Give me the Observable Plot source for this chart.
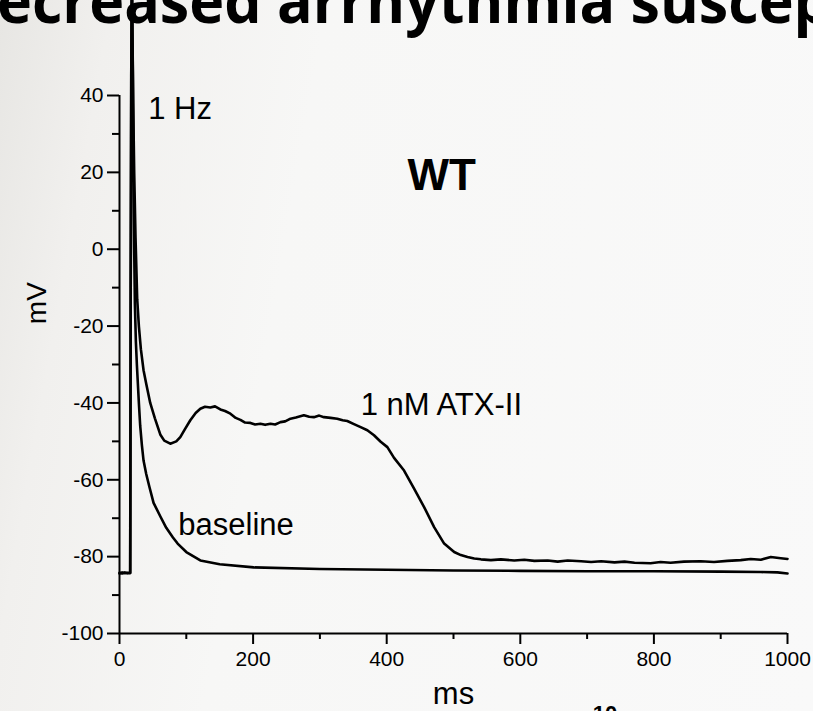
<!DOCTYPE html>
<html>
<head>
<meta charset="utf-8">
<script src="https://cdn.jsdelivr.net/npm/d3@7"></script>
<script src="https://cdn.jsdelivr.net/npm/@observablehq/plot@0.6"></script>
<style>
  html, body { margin: 0; padding: 0; }
  body {
    width: 813px; height: 711px; overflow: hidden; position: relative;
    background: linear-gradient(100deg, #e7e6e3 0%, #f1f0ee 12%, #f7f7f6 35%, #f9f9f9 100%);
  }
  #chart svg { display: block; }
  #overlay { position: absolute; left: 0; top: 0; pointer-events: none; }
</style>
</head>
<body>
<div id="chart"></div>
<svg id="overlay" width="813" height="711">
  <text id="title" x="-3" y="23" font-family="'Open Sans', sans-serif" font-weight="700" font-size="60" textLength="834" lengthAdjust="spacingAndGlyphs" fill="#000">ecreased arrhythmia suscep</text>
  <text x="605" y="721" text-anchor="middle" font-family="'Liberation Sans', Arial, sans-serif" font-weight="700" font-size="22" fill="#000">10</text>
</svg>
<script>
// ---- data (ms, mV) ----
const baselineTime = [0, 4, 8, 12, 16, 16.8, 17.6, 18.5, 20, 21, 22, 23, 24.5, 26, 27.5, 29, 31, 33.5, 36, 40, 45, 51, 61, 70, 80, 87, 100, 121, 150, 201, 300, 400, 500, 600, 700, 800, 900, 960, 985, 1000];
const baselineMV   = [-84.4, -84.1, -84.3, -84.2, -84.3, -10, 45, 72, 45, 20, 0, -14, -24, -30, -35, -40, -46, -51, -55, -58.5, -62, -66, -69.5, -72.5, -75, -76.6, -78.8, -81, -82, -82.8, -83.2, -83.4, -83.6, -83.7, -83.8, -83.8, -83.9, -84, -84.1, -84.4];

const atxTime = [0, 4, 8, 12, 16, 16.8, 17.6, 18.5, 19.5, 20.5, 22, 24, 26.5, 29, 32, 36, 40, 46, 53, 61, 67, 76, 85, 91, 98, 106, 114, 121, 128, 136, 143, 151, 158, 166, 174, 181, 188, 196, 203, 211, 218, 226, 233, 241, 248, 256, 264, 276, 284, 291, 299, 306, 316, 326, 334, 341, 351, 361, 371, 381, 391, 401, 411, 426, 441, 456, 471, 486, 501, 511, 521, 531, 541, 556, 571, 591, 606, 621, 641, 656, 671, 691, 706, 721, 741, 756, 771, 795, 810, 825, 845, 870, 890, 910, 930, 945, 960, 975, 990, 1000];
const atxMV   = [-84.2, -84.4, -84.1, -84.3, -84.2, -10, 45, 72, 55, 38, 20, 3, -13, -20, -26, -31.5, -35, -40, -44, -48.2, -49.8, -50.6, -50, -48.9, -46.8, -44.5, -42.6, -41.5, -41, -41.2, -40.9, -41.7, -42.1, -42.8, -43.9, -44.4, -45.1, -45.2, -45.6, -45.4, -45.7, -45.4, -45.6, -45, -44.8, -44.1, -43.8, -43.2, -43.6, -43.7, -43.3, -43.7, -43.9, -44.1, -44.5, -44.7, -45.5, -46.3, -47.1, -48.4, -50.1, -51.5, -54.3, -57.6, -62.3, -67.1, -72.3, -76.6, -78.8, -79.6, -80.1, -80.5, -80.7, -80.9, -80.7, -81, -80.8, -81.1, -81, -81.3, -81, -81.2, -81.4, -81.2, -81.5, -81.3, -81.6, -81.7, -81.4, -81.6, -81.3, -81.2, -81.4, -81.1, -80.9, -80.6, -80.8, -80.1, -80.4, -80.6];

// axis ticks
const xMajorTicks = [0, 200, 400, 600, 800, 1000];
const xMinorTicks = [100, 300, 500, 700, 900];
const yMajorTicks = [-100, -80, -60, -40, -20, 0, 20, 40];
const yMinorTicks = [-90, -70, -50, -30, -10, 10, 30];

// labels
const xLabel = "ms";
const yLabel = "mV";
const groupLabel = "WT";
const rateLabel = "1 Hz";
const atxLabel = "1 nM ATX-II";
const baseLabel = "baseline";

const baselineData = baselineTime.map((t, i) => ({t, v: baselineMV[i]}));
const atxData = atxTime.map((t, i) => ({t, v: atxMV[i]}));

const font = "'Liberation Sans', Arial, Helvetica, sans-serif";

const chart = Plot.plot({
  width: 813,
  height: 711,
  marginTop: 95,
  marginLeft: 119,
  marginRight: 26,
  marginBottom: 78,
  x: {domain: [0, 1000]},
  y: {domain: [-100, 40]},
  style: {background: "transparent", fontFamily: font, fontSize: "21px", color: "#000", overflow: "visible"},
  marks: [
    Plot.line(atxData, {x: "t", y: "v", stroke: "#000", strokeWidth: 2.6, curve: "linear"}),
    Plot.line(baselineData, {x: "t", y: "v", stroke: "#000", strokeWidth: 2.6, curve: "linear"}),
    Plot.ruleX([0], {y1: -100, y2: 40, stroke: "#000", strokeWidth: 2}),
    Plot.ruleY([-100], {x1: 0, x2: 1000, stroke: "#000", strokeWidth: 2}),
    Plot.axisY(yMajorTicks, {tickSize: 12, tickPadding: 4, strokeWidth: 2, label: null, tickFormat: d => String(d), fontSize: 21}),
    Plot.axisY(yMinorTicks, {tickSize: 7, strokeWidth: 2, label: null, tickFormat: () => ""}),
    Plot.axisX(xMajorTicks, {tickSize: 11, tickPadding: 7, strokeWidth: 2, label: null, tickFormat: d => String(d), fontSize: 21}),
    Plot.axisX(xMinorTicks, {tickSize: 6, strokeWidth: 2, label: null, tickFormat: () => ""}),
    Plot.text([rateLabel], {x: 43, y: 36.5, text: d => d, textAnchor: "start", fontSize: 31, fill: "#000"}),
    Plot.text([groupLabel], {x: 431, y: 19, text: d => d, textAnchor: "start", fontSize: 44, fontWeight: "bold", fill: "#000"}),
    Plot.text([atxLabel], {x: 361, y: -40.6, text: d => d, textAnchor: "start", fontSize: 31, fill: "#000"}),
    Plot.text([baseLabel], {x: 88, y: -71.7, text: d => d, textAnchor: "start", fontSize: 31, fill: "#000"}),
    Plot.text([xLabel], {x: 500, frameAnchor: "bottom", dy: 70, text: d => d, fontSize: 31, fill: "#000"}),
    Plot.text([yLabel], {y: -19.5, frameAnchor: "left", dx: -82, rotate: -90, text: d => d, fontSize: 28, fill: "#000"})
  ]
});
document.getElementById("chart").append(chart);
</script>
</body>
</html>
